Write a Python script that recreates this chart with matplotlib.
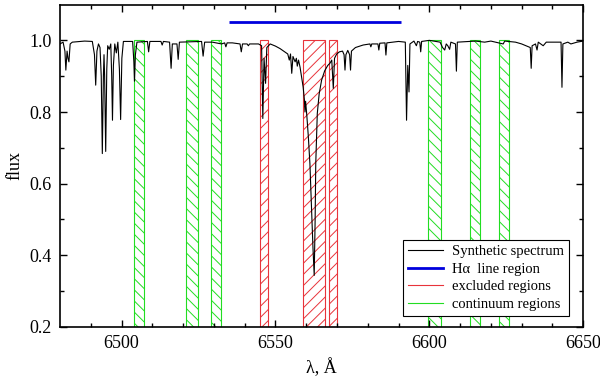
import matplotlib
matplotlib.use('Agg')
import matplotlib.pyplot as plt
from matplotlib.lines import Line2D

# --- data ---
spec_wl = [6480.0, 6481.0, 6481.6, 6481.9, 6482.3, 6482.6, 6482.9, 6483.3, 6484.0, 6488.0,
           6490.5, 6491.2, 6491.6, 6492.0, 6492.5, 6493.0, 6493.4, 6493.75, 6494.1, 6494.3,
           6494.5, 6494.85, 6495.2, 6495.5, 6496.0, 6496.5, 6496.8, 6497.05, 6497.35, 6497.8,
           6498.3, 6498.8, 6499.3, 6499.7, 6500.1, 6500.6, 6503.6, 6504.0, 6504.2, 6504.5,
           6505.0, 6508.4, 6508.8, 6509.2, 6512.8, 6513.2, 6513.6, 6515.6, 6516.1, 6516.5,
           6518.0, 6518.4, 6518.8, 6526.0, 6526.5, 6527.0, 6529.5, 6532.5, 6533.5, 6533.9,
           6534.3, 6536.0, 6538.5, 6538.9, 6539.3, 6540.8, 6541.2, 6541.6, 6544.5, 6545.5,
           6545.9, 6546.3, 6546.8, 6547.2, 6548.3, 6550.0, 6551.5, 6553.0, 6554.0, 6554.5,
           6554.9, 6555.3, 6555.7, 6556.4, 6556.8, 6557.1, 6557.5, 6558.0, 6558.5, 6559.0,
           6559.4, 6559.6, 6559.8, 6560.2, 6560.7, 6561.2, 6561.7, 6562.2, 6562.6, 6562.9,
           6563.1, 6563.6, 6564.2, 6565.0, 6566.0, 6567.0, 6567.7, 6568.3, 6568.8, 6569.2,
           6569.9, 6570.8, 6571.8, 6572.3, 6572.6, 6572.9, 6573.5, 6574.1, 6574.4, 6574.7,
           6576.0, 6578.5, 6580.7, 6581.0, 6581.3, 6583.3, 6583.6, 6583.9, 6585.6, 6585.9,
           6586.2, 6590.0, 6592.2, 6592.6, 6593.0, 6593.4, 6593.7, 6595.0, 6595.8, 6596.2,
           6596.9, 6597.2, 6597.5, 6600.0, 6603.5, 6604.3, 6605.0, 6605.5, 6606.0, 6606.6,
           6607.0, 6608.5, 6608.8, 6609.1, 6615.0, 6618.0, 6620.0, 6624.0, 6624.5, 6628.0,
           6630.0, 6632.8, 6633.1, 6633.4, 6634.5, 6635.0, 6635.4, 6637.0, 6638.0, 6642.8,
           6643.1, 6643.4, 6645.0, 6646.0, 6648.0, 6650.0]
spec_flux = [0.990, 0.995, 0.970, 0.917, 0.970, 0.950, 0.940, 0.990, 0.995, 0.998,
             0.997, 0.960, 0.875, 0.970, 0.990, 0.980, 0.900, 0.684, 0.900, 0.960,
             0.900, 0.690, 0.920, 0.985, 0.975, 0.990, 0.900, 0.777, 0.930, 0.990,
             0.965, 0.995, 0.920, 0.779, 0.950, 0.997, 0.997, 0.940, 0.886, 0.960,
             0.995, 0.997, 0.968, 0.997, 0.997, 0.987, 0.997, 0.995, 0.922, 0.990,
             0.990, 0.947, 0.995, 0.997, 0.956, 0.995, 0.995, 0.990, 0.993, 0.982,
             0.993, 0.993, 0.990, 0.968, 0.990, 0.990, 0.985, 0.990, 0.990, 0.985,
             0.782, 0.950, 0.880, 0.980, 0.990, 0.984, 0.977, 0.968, 0.962, 0.945,
             0.962, 0.908, 0.955, 0.940, 0.950, 0.928, 0.945, 0.925, 0.898, 0.870,
             0.835, 0.800, 0.830, 0.790, 0.730, 0.656, 0.540, 0.420, 0.344, 0.500,
             0.656, 0.796, 0.850, 0.889, 0.915, 0.930, 0.936, 0.945, 0.866, 0.950,
             0.962, 0.968, 0.970, 0.960, 0.917, 0.960, 0.972, 0.960, 0.917, 0.970,
             0.980, 0.987, 0.990, 0.982, 0.990, 0.990, 0.973, 0.992, 0.993, 0.959,
             0.993, 0.997, 0.995, 0.777, 0.930, 0.856, 0.990, 0.998, 0.985, 0.997,
             0.995, 0.968, 0.997, 1.000, 0.995, 0.980, 0.973, 0.990, 0.985, 0.975,
             0.995, 0.990, 0.914, 0.995, 0.998, 0.995, 0.998, 0.990, 0.998, 0.995,
             0.990, 0.980, 0.922, 0.985, 0.990, 0.973, 0.995, 0.985, 0.995, 0.995,
             0.869, 0.990, 0.995, 0.990, 0.995, 0.998]

# H-alpha line region
halpha_start, halpha_end, halpha_level = 6535.0, 6590.7, 1.05

# excluded (red) and continuum (green) windows
excluded_lo = [6544.9, 6558.9, 6567.4]
excluded_hi = [6547.5, 6566.2, 6570.1]
continuum_lo = [6504.2, 6521.0, 6529.2, 6599.6, 6613.2, 6622.6]
continuum_hi = [6507.3, 6524.7, 6532.3, 6603.8, 6616.5, 6626.0]
region_bottom, region_top = 0.2, 1.0

red = '#e8333a'
green = '#22dd22'

plt.rcParams['font.family'] = ['Liberation Serif', 'DejaVu Serif']
plt.rcParams['hatch.linewidth'] = 0.7

fig = plt.figure(figsize=(6, 3.78), dpi=100)
ax = fig.add_axes([0.1, 0.135, 0.872, 0.853])

# windows as hatched boxes
for lo, hi in zip(excluded_lo, excluded_hi):
    ax.bar(lo, region_top - region_bottom, width=hi - lo, bottom=region_bottom, align='edge',
           fill=False, edgecolor=red, hatch='///', linewidth=0.8, zorder=1)
for lo, hi in zip(continuum_lo, continuum_hi):
    ax.bar(lo, region_top - region_bottom, width=hi - lo, bottom=region_bottom, align='edge',
           fill=False, edgecolor=green, hatch='\\\\\\', linewidth=0.8, zorder=1)

ax.plot(spec_wl, spec_flux, color='black', lw=0.8, zorder=3)
ax.hlines(halpha_level, halpha_start, halpha_end, color='#0000dd', lw=2.0, zorder=3)

ax.set_xlim(6480, 6650)
ax.set_ylim(0.2, 1.1)
ax.set_xticks([6500, 6550, 6600, 6650])
ax.set_xticks(range(6490, 6650, 10), minor=True)
ax.set_yticks([0.2, 0.4, 0.6, 0.8, 1.0])
ax.set_yticks([0.3, 0.5, 0.7, 0.9], minor=True)
ax.yaxis.set_major_formatter(matplotlib.ticker.FormatStrFormatter('%.1f'))
ax.tick_params(which='both', direction='in', top=True, right=True, labelsize=13, width=1.0)
ax.tick_params(which='major', length=5, pad=6)
ax.tick_params(which='minor', length=3)
for s in ax.spines.values():
    s.set_linewidth(1.2)

ax.set_xlabel('λ, Å', fontsize=13, labelpad=4)
ax.set_ylabel('flux', fontsize=13, labelpad=4)

handles = [Line2D([], [], color='black', lw=0.8),
           Line2D([], [], color='#0000dd', lw=2.0),
           Line2D([], [], color=red, lw=0.8),
           Line2D([], [], color=green, lw=0.8)]
labels = ['Synthetic spectrum', 'Hα  line region', 'excluded regions', 'continuum regions']
leg = ax.legend(handles, labels, loc='lower right', bbox_to_anchor=(0.973, 0.034),
                fontsize=10.5, frameon=True, fancybox=False, framealpha=1, edgecolor='black',
                handlelength=2.4, borderpad=0.35, labelspacing=0.3, borderaxespad=0,
                handletextpad=0.6)
leg.get_frame().set_linewidth(0.8)

plt.savefig('out.png', dpi=100)
